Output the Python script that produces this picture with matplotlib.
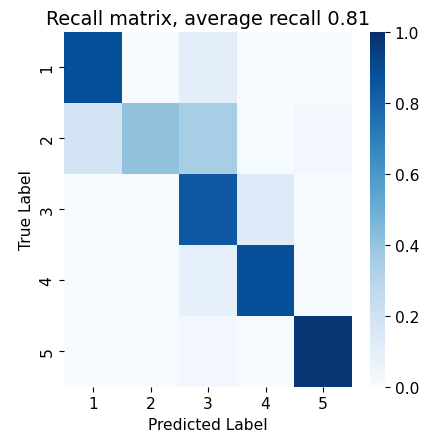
import matplotlib
matplotlib.use("Agg")
import matplotlib.pyplot as plt
import seaborn as sns
import numpy as np

labels = ["1", "2", "3", "4", "5"]
row1 = [0.88, 0.01, 0.10, 0.00, 0.01]
row2 = [0.19, 0.41, 0.35, 0.01, 0.03]
row3 = [0.01, 0.01, 0.84, 0.13, 0.01]
row4 = [0.01, 0.01, 0.09, 0.88, 0.01]
row5 = [0.01, 0.01, 0.03, 0.01, 0.97]
title = "Recall matrix, average recall 0.81"

data = np.array([row1, row2, row3, row4, row5])

fig = plt.figure(figsize=(4.24, 4.39), dpi=100)
ax = fig.add_axes([0.152, 0.117, 0.678, 0.808])
cax = fig.add_axes([0.872, 0.117, 0.036, 0.808])
sns.heatmap(data, ax=ax, cbar_ax=cax, cmap="Blues", vmin=0, vmax=1,
            xticklabels=labels, yticklabels=labels)
ax.set_title(title, fontsize=13.9)
ax.set_xlabel("Predicted Label", fontsize=11.2)
ax.set_ylabel("True Label", fontsize=11.2)
ax.tick_params(labelsize=11.2)
cax.tick_params(labelsize=11.2)
fig.savefig("out.png", dpi=100)
